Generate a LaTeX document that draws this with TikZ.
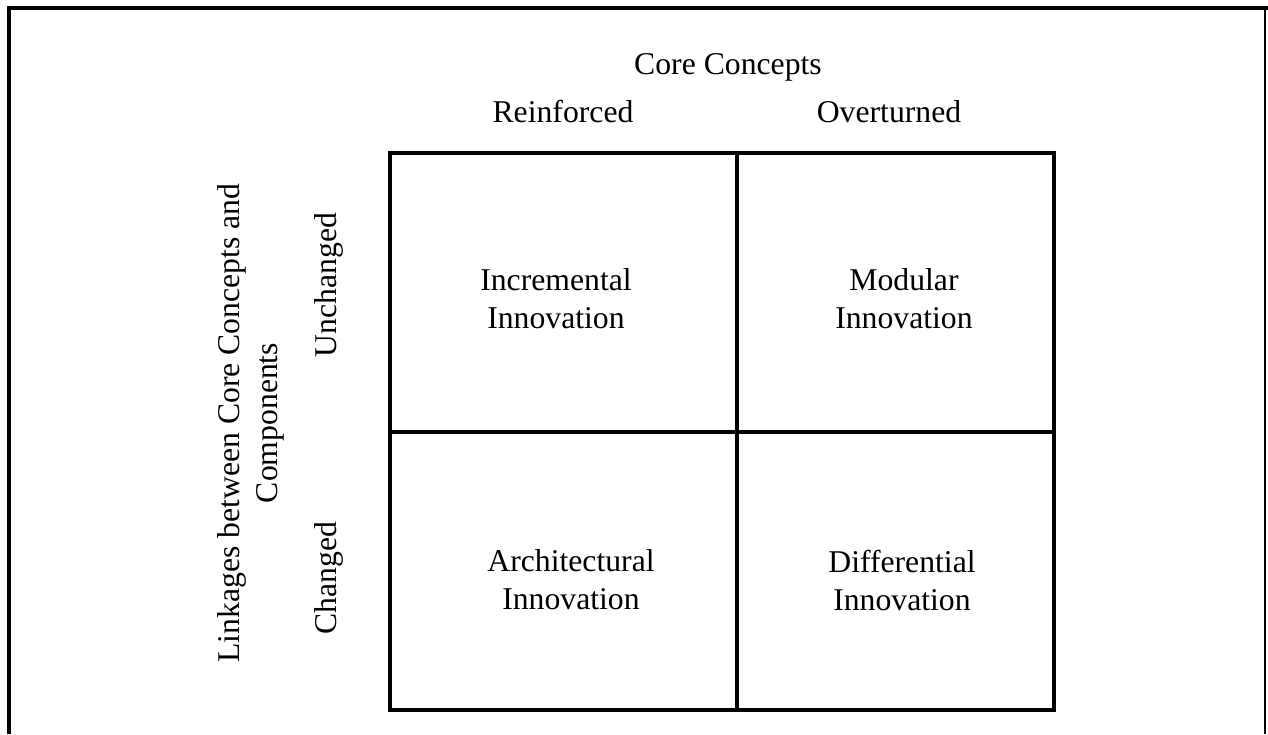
\documentclass[tikz,border=0pt]{standalone}
\usepackage{fontspec}
\setmainfont{Liberation Serif}
\begin{document}
\begin{tikzpicture}[x=1pt,y=-1pt,
  lbl/.style={inner sep=0pt,font=\fontsize{31.7}{38}\selectfont},
  cell/.style={lbl,align=center},
  gridline/.style={line width=3.5pt,line cap=rect},
  frame/.style={line width=4pt}]
\useasboundingbox (0,0) rectangle (1268,734);
% outer frame
\coordinate (fbl) at (9,734);
\coordinate (ftl) at (9,8);
\coordinate (ftr) at (1268,8);
\coordinate (frt) at (1265,8);
\coordinate (frb) at (1265,734);
\draw[frame] (fbl) -- (ftl) -- (ftr);
\draw[line width=1.7pt] (frt) -- (frb);
% grid
\coordinate (g1) at (390,153);
\coordinate (g2) at (1054,710);
\coordinate (mt) at (737,153);
\coordinate (mb) at (737,710);
\coordinate (ml) at (390,432);
\coordinate (mr) at (1054,432);
\draw[gridline] (g1) rectangle (g2);
\draw[gridline] (mt) -- (mb);
\draw[gridline] (ml) -- (mr);
% headings
\node[lbl,anchor=base] (core) at (728,74) {Core Concepts};
\node[lbl,anchor=base] (reinf) at (563,122) {Reinforced};
\node[lbl,anchor=base] (overt) at (889,122) {Overturned};
\node[lbl,anchor=base,rotate=90] (unch) at (336,285) {Unchanged};
\node[lbl,anchor=base,rotate=90] (chg) at (336,578) {Changed};
\node[cell,rotate=90] (link) at (251,423) {Linkages between Core Concepts and\\Components};
% cells
\node[cell] (inc) at (556,299) {Incremental\\Innovation};
\node[cell] (mod) at (904,299) {Modular\\Innovation};
\node[cell] (arch) at (571,580) {Architectural\\Innovation};
\node[cell] (diff) at (902,580) {Differential\\Innovation};
\end{tikzpicture}
\end{document}
